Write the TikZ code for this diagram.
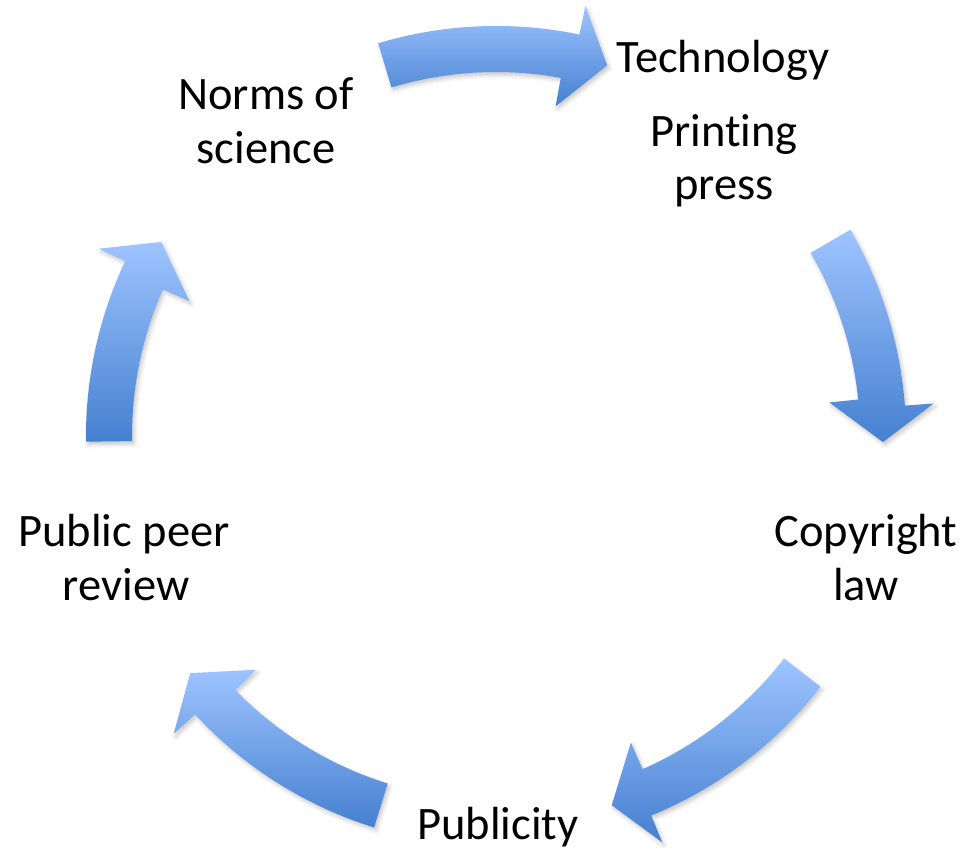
\documentclass[tikz,border=0pt]{standalone}
\usepackage{fontspec}
\setmainfont[RawFeature=-liga]{Carlito}
\usetikzlibrary{shadows.blur}
\definecolor{arrLight}{RGB}{158,196,255}
\definecolor{arrDark}{RGB}{69,128,208}
\tikzset{
  cyc arrow/.style={top color=arrLight, bottom color=arrDark,
    blur shadow={shadow xshift=2pt, shadow yshift=-3pt, shadow blur radius=4pt, shadow opacity=22}},
  lbl/.style={inner sep=0pt, anchor=base, font=\fontsize{46.5}{50}\selectfont}
}
% tail angle, head-base angle, tip angle
\newcommand\cycArrow[3]{%
  \shade[cyc arrow] (#1:410) arc[start angle=#1, end angle={#2-0.75}, radius=410]
    -- ({#2-0.75}:439) -- (#3:387) -- ({#2+0.75}:335) -- ({#2+0.75}:364)
    arc[start angle={#2+0.75}, end angle=#1, radius=364] -- cycle;}
\begin{document}
\begin{tikzpicture}[x=1pt,y=1pt]
\useasboundingbox (0,0) rectangle (967,851);
\begin{scope}[shift={(496,415)}]
  \cycArrow{106.7}{79.0}{73.3}
  \cycArrow{30.2}{5.0}{-0.9}
  \cycArrow{-37.7}{-67.0}{-72.6}
  \cycArrow{-107.3}{-136.5}{-142.2}
  \cycArrow{180.8}{155.5}{149.9}
\end{scope}
\node[lbl] (tech) at (723,778) {Technology};
\node[lbl] (print1) at (724,704) {Printing};
\node[lbl] (print2) at (724,651) {press};
\node[lbl] (norms1) at (266,741) {Norms of};
\node[lbl] (norms2) at (266,687) {science};
\node[lbl] (copy1) at (866,304) {Copyright};
\node[lbl] (copy2) at (866,250) {law};
\node[lbl] (peer1) at (124,304) {Public peer};
\node[lbl] (peer2) at (126,250) {review};
\node[lbl] (pub) at (498,11) {Publicity};
\end{tikzpicture}
\end{document}
